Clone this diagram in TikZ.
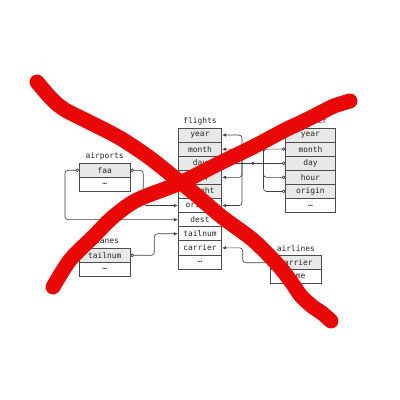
\documentclass[tikz,border=0pt]{standalone}
\usepackage{fontspec}
\setmonofont{DejaVu Sans Mono}
\usetikzlibrary{arrows.meta}
\definecolor{xred}{RGB}{232,8,8}
\tikzset{
 tbl/.style={draw=black!70, line width=0.75pt, minimum height=14.1pt, inner sep=0pt, font=\ttfamily\fontsize{7.9}{9}\selectfont, text=black!85, anchor=center},
 keyrow/.style={tbl, fill=black!9},
 plainrow/.style={tbl, fill=white},
 ttl/.style={font=\ttfamily\fontsize{7.9}{9}\selectfont, text=black!85, inner sep=0pt},
 conn/.style={draw=black!75, line width=0.65pt, rounded corners=3pt},
 arr/.style={conn, -{Latex[length=4pt,width=3.5pt]}},
 oarr/.style={conn, {Circle[open,length=3.5pt]}-{Latex[length=4pt,width=3.5pt]}},
 ocirc/.style={conn, {Circle[open,length=3.5pt]}-},
 redx/.style={draw=xred, line width=15pt, line cap=round, line join=round},
}
\begin{document}
\begin{tikzpicture}[x=1pt,y=-1pt]
\useasboundingbox (0,0) rectangle (400,400);
% flights
\begin{scope}[every node/.append style={minimum width=43.4pt}]
\node[ttl] (f-t) at (200,121) {flights};
\node[keyrow] (f-year) at (200,135.05) {year};
\node[keyrow] (f-month) at (200,149.15) {month};
\node[keyrow] (f-day) at (200,163.25) {day};
\node[keyrow] (f-hour) at (200,177.35) {hour};
\node[keyrow] (f-flight) at (200,191.45) {flight};
\node[plainrow] (f-origin) at (200,205.55) {origin};
\node[plainrow] (f-dest) at (200,219.65) {dest};
\node[plainrow] (f-tailnum) at (200,233.75) {tailnum};
\node[plainrow] (f-carrier) at (200,247.85) {carrier};
\node[plainrow] (f-more) at (200,261.95) {…};
\end{scope}
% weather
\begin{scope}[every node/.append style={minimum width=49.3pt}]
\node[ttl] (w-t) at (310.4,121) {weather};
\node[keyrow] (w-year) at (310.4,135.05) {year};
\node[keyrow] (w-month) at (310.4,149.15) {month};
\node[keyrow] (w-day) at (310.4,163.25) {day};
\node[keyrow] (w-hour) at (310.4,177.35) {hour};
\node[keyrow] (w-origin) at (310.4,191.45) {origin};
\node[plainrow] (w-more) at (310.4,205.55) {…};
\end{scope}
% airports
\begin{scope}[every node/.append style={minimum width=50.7pt}]
\node[ttl] (a-t) at (104.7,156.7) {airports};
\node[keyrow] (a-faa) at (104.7,170.3) {faa};
\node[plainrow] (a-more) at (104.7,184.4) {…};
\end{scope}
% planes
\begin{scope}[every node/.append style={minimum width=50.7pt}]
\node[ttl] (p-t) at (104.7,241.7) {planes};
\node[keyrow] (p-tailnum) at (104.7,255.3) {tailnum};
\node[plainrow] (p-more) at (104.7,269.4) {…};
\end{scope}
% airlines
\begin{scope}[every node/.append style={minimum width=50.3pt}]
\node[ttl] (l-t) at (295.9,248.7) {airlines};
\node[keyrow] (l-carrier) at (295.9,262.7) {carrier};
\node[plainrow] (l-name) at (295.9,276.8) {name};
\end{scope}
% weather connectors
\coordinate (lb) at (242,163.25);
\coordinate (dot) at (253,163.25);
\coordinate (rb) at (263.5,163.25);
\fill[black!80] (dot) circle (1.6pt);
\draw[conn] (dot) -- (lb);
\draw[conn] (dot) -- (rb);
\draw[arr] (lb) |- (f-year.east);
\draw[arr] (lb) |- (f-month.east);
\draw[arr] (lb) -- (f-day.east);
\draw[arr] (lb) |- (f-hour.east);
\draw[arr] (lb) |- (f-origin.east);
\draw[ocirc] (w-year.west) -| (rb);
\draw[ocirc] (w-month.west) -| (rb);
\draw[ocirc] (w-day.west) -- (rb);
\draw[ocirc] (w-hour.west) -| (rb);
\draw[ocirc] (w-origin.west) -| (rb);
% airports connectors
\coordinate (ar) at (143.3,170.3);
\coordinate (al) at (65,170.3);
\draw[oarr] (a-faa.east) -- (ar) |- (f-origin.west);
\draw[oarr] (a-faa.west) -- (al) |- (f-dest.west);
% planes
\coordinate (pr) at (154.3,255.3);
\draw[oarr] (p-tailnum.east) -- (pr) |- (f-tailnum.west);
% airlines
\coordinate (lr) at (242.7,262.7);
\draw[oarr] (l-carrier.west) -- (lr) |- (f-carrier.east);
% red X
\draw[redx] plot[smooth, tension=0.5] coordinates {(37,82) (48,95) (57,104) (67,111) (87,121) (120,138) (150,158) (175,178) (195,194) (222,217) (253,240) (278,265) (292,283) (301,296) (313,307) (322,313) (331,321)};
\draw[redx] plot[smooth, tension=0.5] coordinates {(350,101) (334,106) (320,113) (300,123) (285,130) (253,147) (220,163) (180,183) (137,200) (113,217) (93,237) (70,260) (53,287)};
\end{tikzpicture}
\end{document}
